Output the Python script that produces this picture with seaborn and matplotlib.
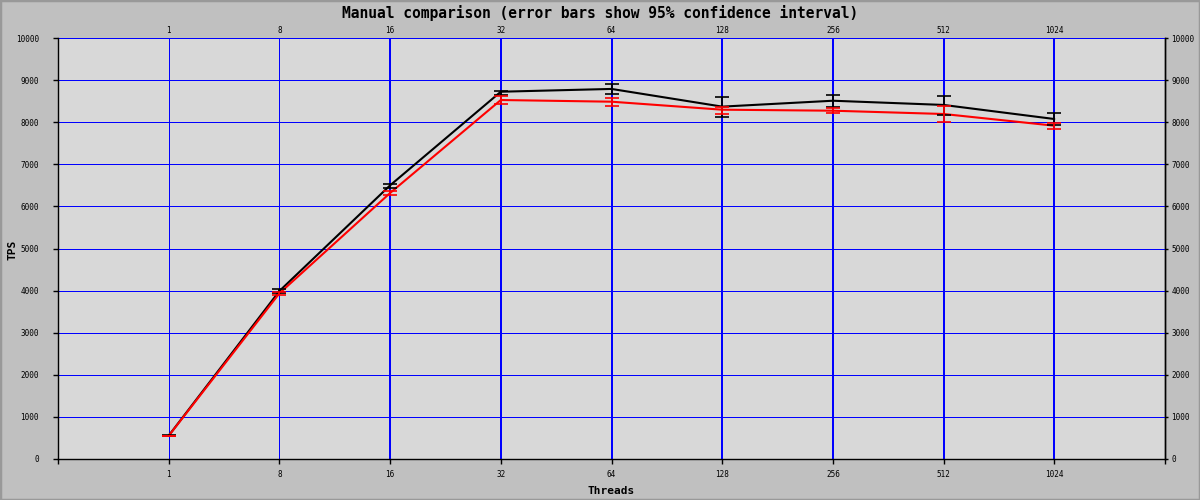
import matplotlib
matplotlib.use("Agg")
import matplotlib.pyplot as plt
from matplotlib.patches import Rectangle
import seaborn as sns
import pandas as pd
import numpy as np

# ---- data ----
threads = ['1', '8', '16', '32', '64', '128', '256', '512', '1024']
black_mean = [555, 3990, 6500, 8724, 8790, 8370, 8510, 8410, 8076]
black_low = [545, 3950, 6430, 8653, 8680, 8116, 8354, 8171, 7933]
black_high = [565, 4031, 6525, 8741, 8900, 8591, 8638, 8615, 8211]
red_mean = [550, 3935, 6318, 8527, 8487, 8297, 8273, 8195, 7917]
red_low = [545, 3888, 6264, 8425, 8385, 8195, 8211, 8012, 7831]
red_high = [555, 3974, 6366, 8630, 8568, 8368, 8344, 8377, 7974]
yticks = list(range(0, 10001, 1000))

sns.set_theme(style="white")
plt.rcParams['font.family'] = ['DejaVu Sans Mono', 'DejaVu Sans']
plt.rcParams['text.color'] = 'black'
plt.rcParams['axes.labelcolor'] = 'black'

pos = np.arange(1, len(threads) + 1)
df = pd.concat([
    pd.DataFrame({'pos': pos, 'tps': black_mean, 'series': 'A'}),
    pd.DataFrame({'pos': pos, 'tps': red_mean, 'series': 'B'}),
])

fig = plt.figure(figsize=(12, 5), dpi=100, facecolor='#c0c0c0')
ax = fig.add_axes([58 / 1200, 41 / 500, (1165 - 58) / 1200, (459 - 38) / 500])
ax.set_facecolor('#d8d8d8')

ax.set_xlim(0, len(threads) + 1)
ax.set_ylim(0, 10000)
ax.set_xticks(range(0, len(threads) + 2))
ax.set_xticklabels([''] + threads + [''])
ax.set_yticks(yticks)
ax.set_yticklabels([str(v) for v in yticks])
ax.grid(True, color='#0000ff', linewidth=0.72)
ax.set_axisbelow(True)
for i, gl in enumerate(ax.get_xgridlines()):
    gl.set_antialiased(False)
    if i in (0, len(threads) + 1):
        gl.set_visible(False)
    elif i <= 2:
        gl.set_linewidth(0.72)
    else:
        gl.set_linewidth(1.44)
for gl in ax.get_ygridlines():
    gl.set_antialiased(False)
    gl.set_linewidth(0.72)

sns.lineplot(data=df, x='pos', y='tps', hue='series', hue_order=['A', 'B'],
             palette={'A': 'black', 'B': 'red'}, linewidth=1.5,
             legend=False, ax=ax, zorder=3)

for mean, lo, hi, col, z in [(black_mean, black_low, black_high, 'black', 4),
                             (red_mean, red_low, red_high, 'red', 5)]:
    m = np.array(mean)
    yerr = np.vstack([m - np.array(lo), np.array(hi) - m])
    ax.errorbar(pos, m, yerr=yerr, fmt='none', ecolor=col, elinewidth=1.3,
                capsize=5.3, capthick=1.2, zorder=z)

for s in ['left', 'bottom', 'right']:
    ax.spines[s].set_color('black')
    ax.spines[s].set_linewidth(1.0)
ax.spines['top'].set_visible(False)

ax.tick_params(axis='both', which='major', direction='out', length=3.6, width=1.0,
               color='black', labelsize=5.5, labelcolor='black')
ax.tick_params(axis='x', bottom=True, top=False, pad=4)
ax.tick_params(axis='y', left=True, right=False, labelleft=True, labelright=False, pad=10)

secy = ax.secondary_yaxis('right')
secy.set_yticks(yticks)
secy.set_yticklabels([str(v) for v in yticks])
secy.tick_params(direction='out', length=2.2, width=1.0, color='black',
                 labelsize=5.5, labelcolor='black', pad=2.5)
secy.spines['right'].set_color('black')
secy.spines['right'].set_linewidth(1.0)

sec = ax.secondary_xaxis('top')
sec.set_xticks(pos)
sec.set_xticklabels(threads)
sec.tick_params(length=0, labelsize=5.5, pad=2.5, labelcolor='black')
sec.spines['top'].set_visible(False)

ax.set_xlabel('Threads', fontsize=8, fontweight='bold', labelpad=5, color='black')
ax.set_ylabel('')
fig.text(12 / 1200, 0.5, 'TPS', rotation=90, fontsize=8, fontweight='bold',
         ha='center', va='center', color='black')

fig.text(0.5, 1 - 13 / 500, 'Manual comparison (error bars show 95% confidence interval)',
         fontsize=10.5, fontweight='bold', ha='center', va='center', color='black')

fig.patches.append(Rectangle((0, 0), 1, 1, transform=fig.transFigure, fill=False,
                             edgecolor='#999999', linewidth=2.5))

fig.savefig('out.png', dpi=100, facecolor=fig.get_facecolor())
